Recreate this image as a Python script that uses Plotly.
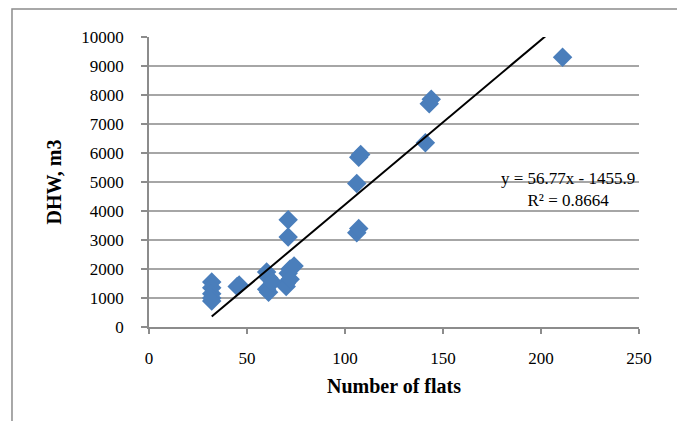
import plotly.graph_objects as go

# Data
flats = [32, 32, 32, 32, 32, 45, 46, 60, 61, 60, 61, 63,
         70, 70, 71, 71, 71, 72, 72, 74,
         106, 107, 106, 108, 107, 141, 143, 144, 211]
dhw = [1550, 1350, 1150, 1000, 900, 1400, 1450, 1900, 1700, 1300, 1200, 1550,
       1500, 1400, 3700, 3100, 1850, 2000, 1650, 2100,
       4950, 5850, 3250, 5950, 3400, 6350, 7700, 7850, 9300]

slope = 56.77
intercept = -1455.9
eq_text = "y = 56.77x - 1455.9<br>R² = 0.8664"

x_ticks = [0, 50, 100, 150, 200, 250]
y_ticks = list(range(0, 10001, 1000))
y_tick_labels = [str(v) for v in y_ticks]

font_family = "Liberation Serif, Times New Roman, serif"

trend_x = [min(flats), max(flats)]
trend_y = [slope * v + intercept for v in trend_x]

fig = go.Figure()
fig.add_trace(go.Scatter(
    x=flats, y=dhw, mode="markers",
    marker=dict(symbol="diamond", size=15, color="#4a7ebb",
                line=dict(width=0)),
    showlegend=False, cliponaxis=True))
fig.add_trace(go.Scatter(
    x=trend_x, y=trend_y, mode="lines",
    line=dict(color="black", width=2),
    showlegend=False))

tick_font = dict(family=font_family, size=17, color="black",
                 weight="normal", style="normal")

fig.update_layout(
    width=677, height=413,
    margin=dict(l=141, r=46, t=29, b=94),
    paper_bgcolor="white", plot_bgcolor="white",
    font=dict(family=font_family, size=17, color="black"),
    xaxis=dict(range=[0, 250], tickvals=x_ticks, showgrid=False,
               tickfont=tick_font,
               zeroline=False, showline=True, linecolor="#8c8c8c", linewidth=1.5,
               ticks="outside", ticklen=5, tickcolor="#8c8c8c", tickwidth=1.5,
               ticklabelstandoff=10,
               title=dict(text="<b>Number of flats</b>",
                          font=dict(family=font_family, size=20),
                          standoff=12)),
    yaxis=dict(range=[0, 10000], tickvals=y_ticks, ticktext=y_tick_labels,
               tickfont=tick_font, showgrid=True,
               gridcolor="#a6a6a6", gridwidth=1.5,
               zeroline=False, showline=True, linecolor="#8c8c8c", linewidth=1.5,
               ticks="outside", ticklen=6, tickcolor="#8c8c8c", tickwidth=1.5,
               ticklabelstandoff=14,
               title=dict(text="<b>DHW, m3</b>",
                          font=dict(family=font_family, size=20),
                          standoff=14)),
    shapes=[dict(type="rect", xref="paper", yref="paper",
                 x0=-0.2796, x1=1.0878, y0=-0.36, y1=1.0966,
                 line=dict(color="#8c8c8c", width=1.5), layer="below")],
    annotations=[dict(x=214, y=4730, xref="x", yref="y", text=eq_text,
                      showarrow=False, align="center",
                      font=dict(size=17, family=font_family))],
)

fig.write_html("out.html")
